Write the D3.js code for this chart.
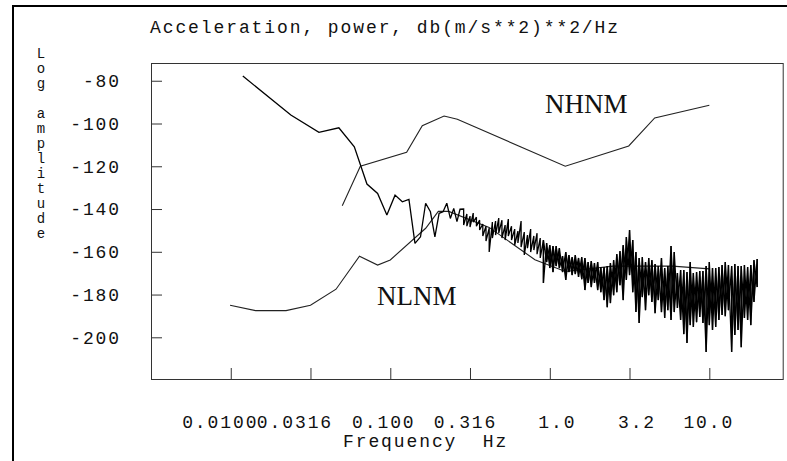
<!DOCTYPE html>
<html>
<head>
<meta charset="utf-8">
<script src="https://cdn.jsdelivr.net/npm/d3@7"></script>
<style>
  html, body { margin: 0; padding: 0; background: #fff; }
  svg { display: block; }
  .mono { font-family: "Liberation Mono", "Courier New", monospace; font-size: 18px; letter-spacing: 1.9px; fill: #111; }
  .model { font-family: "Liberation Serif", "Times New Roman", serif; font-size: 27px; fill: #111; }
</style>
</head>
<body>
<div id="chart"></div>
<script>
// Peterson high noise model (Hz, dB)
const nhnmFreq = [0.05, 0.0649, 0.1266, 0.1587, 0.2174, 0.2632, 1.25, 3.125, 4.545, 10];
const nhnmDb = [-138.5, -120.0, -113.5, -101.0, -96.5, -98.0, -120.0, -110.5, -97.4, -91.5];

// Peterson low noise model (Hz, dB)
const nlnmFreq = [0.0099, 0.0143, 0.0222, 0.0316, 0.0457, 0.0641, 0.0833, 0.1, 0.1667, 0.2, 0.2326,
  0.4167, 0.8065, 1.25, 2.5, 5.882, 10];
const nlnmDb = [-185.0, -187.5, -187.5, -185.0, -177.5, -162.1, -166.2, -163.8, -149.0, -141.1, -141.1,
  -148.6, -163.7, -169.2, -166.7, -166.7, -168.0];

// measured spectrum, first bins (read one by one)
const binFreq = [0.0119, 0.0238, 0.0357, 0.0476, 0.0595, 0.0714, 0.0833, 0.0952, 0.1071, 0.1190,
  0.1309, 0.1428, 0.1547, 0.1666, 0.1785, 0.1904, 0.2023, 0.2142, 0.2261, 0.2380, 0.2499, 0.2618, 0.2737];
const binDb = [-77.8, -96.0, -104.1, -102.0, -110.9, -128.3, -132.7, -142.8, -133.5, -136.6,
  -135.5, -156.1, -153.0, -137.3, -141.3, -153.0, -142.0, -141.3, -137.3, -144.4, -139.7, -145.9, -140.1];

// measured spectrum, dense part: upper and lower excursions at each frequency
const denseFreq = [0.2884, 0.3020, 0.3162, 0.3311, 0.3467, 0.3631, 0.3802, 0.3981, 0.4169, 0.4365,
  0.4571, 0.4786, 0.5012, 0.5248, 0.5495, 0.5754, 0.6026, 0.6310, 0.6607, 0.6918,
  0.7244, 0.7586, 0.7943, 0.8318, 0.8710, 0.9120, 0.9550, 1.000, 1.047, 1.096,
  1.148, 1.202, 1.259, 1.318, 1.380, 1.445, 1.514, 1.585, 1.660, 1.738,
  1.820, 1.905, 1.995, 2.089, 2.188, 2.291, 2.399, 2.512, 2.630, 2.754,
  2.884, 3.020, 3.162, 3.311, 3.467, 3.631, 3.802, 3.981, 4.169, 4.365,
  4.571, 4.786, 5.012, 5.248, 5.495, 5.754, 6.026, 6.310, 6.607, 6.918,
  7.244, 7.586, 7.943, 8.318, 8.710, 9.120, 9.550, 10.00, 10.47, 10.96,
  11.48, 12.02, 12.59, 13.18, 13.80, 14.45, 15.14, 15.85, 16.60, 17.38,
  18.20, 19.05, 19.95];
const denseHi = [-140.0, -142.3, -143.3, -141.9, -143.8, -145.2, -147.0, -148.0, -148.9, -146.1,
  -145.6, -144.2, -145.2, -147.5, -144.7, -148.0, -149.4, -150.3, -145.6, -150.8,
  -152.2, -149.4, -152.6, -151.3, -153.6, -154.5, -155.9, -156.9, -157.3, -157.3,
  -158.3, -162.0, -160.1, -161.5, -162.5, -161.5, -162.9, -162.5, -162.9, -164.8,
  -164.3, -165.3, -164.8, -167.1, -167.1, -166.7, -165.3, -163.9, -161.1, -159.7,
  -156.9, -153.1, -149.8, -154.5, -160.1, -162.9, -162.5, -164.8, -162.9, -163.9,
  -165.7, -166.7, -162.9, -167.6, -166.7, -157.3, -160.1, -169.9, -168.5, -168.5,
  -169.5, -164.8, -169.9, -169.5, -169.0, -169.0, -166.7, -164.8, -167.6, -167.6,
  -167.1, -166.2, -164.8, -166.2, -166.7, -165.7, -166.7, -166.7, -166.2, -167.1,
  -166.2, -163.9, -163.4];
const denseLo = [-147.5, -148.0, -148.4, -146.1, -148.0, -149.8, -152.6, -155.0, -160.1, -153.6,
  -152.2, -151.3, -153.6, -154.5, -152.6, -154.5, -156.9, -155.9, -157.8, -161.5,
  -158.3, -160.1, -159.2, -161.1, -162.9, -174.6, -164.8, -167.6, -169.5, -166.7,
  -167.6, -169.5, -173.2, -169.5, -170.9, -170.4, -171.8, -172.8, -177.9, -174.6,
  -176.5, -174.6, -177.9, -178.9, -182.6, -185.9, -184.0, -180.3, -178.9, -175.6,
  -182.6, -173.2, -170.9, -178.9, -188.2, -193.3, -181.2, -187.3, -180.3, -183.5,
  -188.7, -182.6, -188.2, -191.0, -187.3, -191.9, -188.2, -186.3, -191.9, -198.5,
  -202.7, -194.3, -195.2, -192.9, -190.5, -193.3, -206.9, -194.3, -196.6, -195.2,
  -191.9, -189.6, -190.1, -187.3, -206.9, -198.9, -196.6, -204.6, -191.0, -191.9,
  -194.3, -183.5, -176.5];

const xTicks = [0.01, 0.0316, 0.1, 0.316, 1, 3.16, 10];
const xTickLabels = ["0.0100", "0.0316", "0.100", "0.316", "1.0", "3.2", "10.0"];
const yTicks = [-80, -100, -120, -140, -160, -180, -200];

// label nudges as laid out in the original program
const xLabelShift = [-11, -16, -7, -5, 7, 7, -1];

const width = 787, height = 461;
const plot = { left: 151, top: 63, right: 782.7, bottom: 379 };

const svg = d3.select("#chart").append("svg")
  .attr("width", width)
  .attr("height", height);

svg.append("rect").attr("width", width).attr("height", height).attr("fill", "#fff");

// outer frame (top and left edges visible)
svg.append("rect")
  .attr("x", 13).attr("y", 6)
  .attr("width", 900).attr("height", 600)
  .attr("fill", "none").attr("stroke", "#000").attr("stroke-width", 2);

const x = d3.scaleLog().domain([0.003162, 28.84]).range([plot.left, plot.right]);
const y = d3.scaleLinear().domain([-71.7, -219.5]).range([plot.top, plot.bottom]);

// plot box
svg.append("rect")
  .attr("x", plot.left + 0.5).attr("y", plot.top + 0.5)
  .attr("width", plot.right - plot.left).attr("height", plot.bottom - plot.top)
  .attr("fill", "none").attr("stroke", "#333").attr("stroke-width", 1);

// axes, ticks pointing inward
const gx = svg.append("g")
  .attr("transform", `translate(0,${plot.bottom})`)
  .call(d3.axisBottom(x).tickValues(xTicks).tickFormat((d, i) => xTickLabels[i])
    .tickSizeInner(-11).tickSizeOuter(0).tickPadding(36));
gx.select(".domain").remove();
gx.selectAll(".tick line").attr("stroke", "#333");
gx.selectAll(".tick text").attr("class", "mono").attr("dx", (d, i) => xLabelShift[i]);

const gy = svg.append("g")
  .attr("transform", `translate(${plot.left},0)`)
  .call(d3.axisLeft(y).tickValues(yTicks).tickFormat(d => String(d))
    .tickSizeInner(-11).tickSizeOuter(0).tickPadding(30));
gy.select(".domain").remove();
gy.selectAll(".tick line").attr("stroke", "#333");
gy.selectAll(".tick text").attr("class", "mono");

// titles
svg.append("text").attr("class", "mono")
  .attr("x", 150).attr("y", 33)
  .text("Acceleration, power, db(m/s**2)**2/Hz");

svg.append("text").attr("class", "mono")
  .attr("x", 343).attr("y", 447)
  .style("white-space", "pre")
  .text("Frequency  Hz");

// stacked vertical axis label
const yLabel = svg.append("text").attr("class", "mono")
  .attr("text-anchor", "middle")
  .style("font-size", "14px").style("letter-spacing", "0px")
  .style("white-space", "pre");
Array.from("Log amplitude").forEach((ch, i) => {
  yLabel.append("tspan").attr("x", 41).attr("y", 58 + i * 15).text(ch);
});

// curves
const line = d3.line().x(d => x(d[0])).y(d => y(d[1]));

const spectrum = binFreq.map((f, i) => [f, binDb[i]]);
denseFreq.forEach((f, i) => {
  spectrum.push([f, denseHi[i]]);
  spectrum.push([f, denseLo[i]]);
});

// second pass over the busy high-frequency part, crossing the first zigzag
const spectrumBack = [];
denseFreq.forEach((f, i) => {
  if (f < 0.9) return;
  spectrumBack.push([f, denseLo[i]]);
  spectrumBack.push([f, denseHi[i]]);
});

svg.append("path")
  .datum(nhnmFreq.map((f, i) => [f, nhnmDb[i]]))
  .attr("fill", "none").attr("stroke", "#222").attr("stroke-width", 1.1)
  .attr("d", line);

svg.append("path")
  .datum(nlnmFreq.map((f, i) => [f, nlnmDb[i]]))
  .attr("fill", "none").attr("stroke", "#222").attr("stroke-width", 1.1)
  .attr("d", line);

svg.selectAll(".spectrum")
  .data([spectrum, spectrumBack])
  .enter()
  .append("path")
  .attr("class", "spectrum")
  .attr("fill", "none").attr("stroke", "#000").attr("stroke-width", 1.3)
  .attr("stroke-linejoin", "miter").attr("stroke-miterlimit", 2)
  .attr("d", line);

// model labels
svg.append("text").attr("class", "model").attr("x", 545).attr("y", 113).text("NHNM");
svg.append("text").attr("class", "model").attr("x", 377).attr("y", 305).text("NLNM");
</script>
</body>
</html>
